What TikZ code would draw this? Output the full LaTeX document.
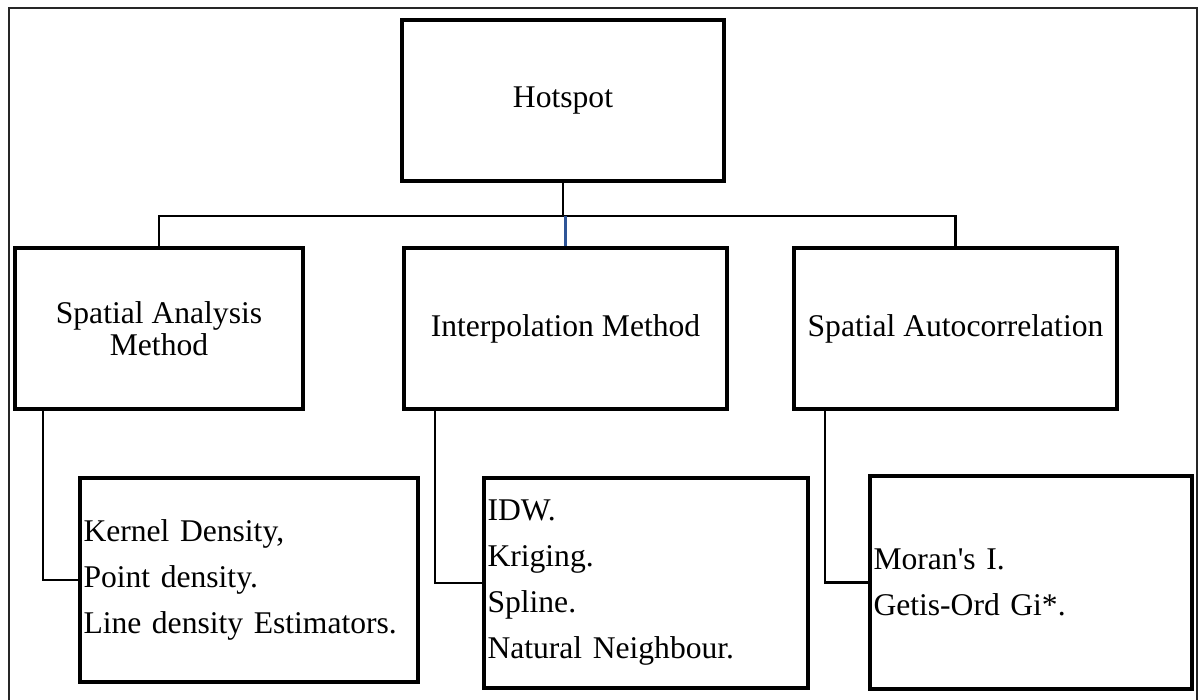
\documentclass[tikz,border=0pt]{standalone}
\usepackage{fontspec}
\setmainfont{Liberation Serif}
\definecolor{connblue}{RGB}{47,85,151}
\begin{document}
\begin{tikzpicture}[x=1pt,y=-1pt,
  box/.style={draw, line width=3.3pt, inner sep=0pt, font=\fontsize{31.6}{32}\selectfont, align=center},
  listbox/.style={draw, line width=3.3pt, inner xsep=3.5pt, inner ysep=0pt, align=left, font=\fontsize{31.6}{46}\selectfont},
  conn/.style={line width=2.2pt},
  frame/.style={draw=black!85, line width=2pt}]
\useasboundingbox (0,0) rectangle (1203,700);
\begin{scope}
\clip (0,0) rectangle (1203,700);
\draw[frame] (9,8) rectangle (1197,720);
\end{scope}
\node[box, minimum width=322pt, minimum height=161pt] (hot) at (563,100.5) {Hotspot};
\node[box, minimum width=288pt, minimum height=161pt] (sam) at (159,328.5) {Spatial Analysis\\Method};
\node[box, minimum width=323pt, minimum height=161pt] (im) at (565.5,328.5) {Interpolation Method};
\node[box, minimum width=323pt, minimum height=161pt] (sa) at (955.5,328.5) {Spatial Autocorrelation};
\node[listbox, text width=331pt, minimum height=204pt] (kd) at (249,580) {Kernel Density,\\Point density.\\Line density Estimators.};
\node[listbox, text width=317pt, minimum height=210pt] (idw) at (646,583) {IDW.\\Kriging.\\Spline.\\Natural Neighbour.};
\node[listbox, text width=315pt, minimum height=213pt] (mi) at (1031,582.5) {Moran\textquotesingle s I.\\Getis-Ord Gi*.};
\path (hot.south) ++(0,33) coordinate (j);
\draw[conn] (hot.south) -- (j);
\draw[conn] (sam.north) |- (j) -| (sa.north);
\draw[conn, connblue] (im.north) -- (im.north |- j);
\draw[conn] ([xshift=30pt]sam.south west) |- (kd.west);
\draw[conn] ([xshift=33pt]im.south west) |- (idw.west);
\draw[conn] ([xshift=33pt]sa.south west) |- (mi.west);
\end{tikzpicture}
\end{document}
